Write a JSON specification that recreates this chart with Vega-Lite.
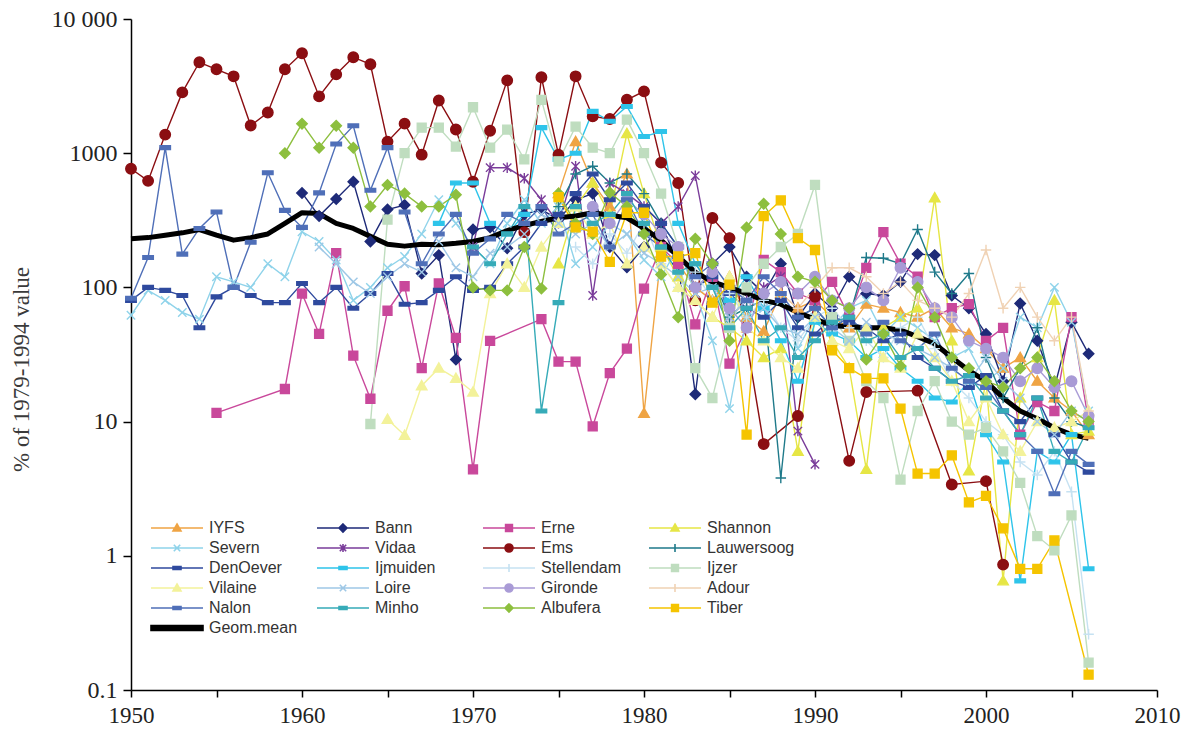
{
  "$schema": "https://vega.github.io/schema/vega-lite/v6.json",
  "width": 1026,
  "height": 671,
  "autosize": {"type": "none"},
  "padding": {"left": 131, "top": 19, "right": 29, "bottom": 58},
  "background": "white",
  "config": {
    "view": {"stroke": null},
    "axis": {"grid": false, "domainColor": "#000", "domainWidth": 1.5, "tickColor": "#000", "tickWidth": 1.5, "labelFont": "Liberation Serif", "labelColor": "#222", "titleFont": "Liberation Serif", "titleColor": "#3a3a3a", "titleFontWeight": "normal"}
  },
  "datasets": {
    "eel": [
      {"series":"IYFS","year":1975,"value":500},{"series":"IYFS","year":1976,"value":1220},{"series":"IYFS","year":1977,"value":600},{"series":"IYFS","year":1978,"value":400},{"series":"IYFS","year":1979,"value":700},{"series":"IYFS","year":1980,"value":11.5},{"series":"IYFS","year":1981,"value":180},{"series":"IYFS","year":1982,"value":150},{"series":"IYFS","year":1983,"value":100},{"series":"IYFS","year":1984,"value":80},{"series":"IYFS","year":1985,"value":120},{"series":"IYFS","year":1986,"value":60},{"series":"IYFS","year":1987,"value":47},{"series":"IYFS","year":1988,"value":90},{"series":"IYFS","year":1989,"value":70},{"series":"IYFS","year":1990,"value":80},{"series":"IYFS","year":1991,"value":60},{"series":"IYFS","year":1992,"value":50},{"series":"IYFS","year":1993,"value":75},{"series":"IYFS","year":1994,"value":70},{"series":"IYFS","year":1995,"value":65},{"series":"IYFS","year":1996,"value":60},{"series":"IYFS","year":1997,"value":70},{"series":"IYFS","year":1998,"value":50},{"series":"IYFS","year":1999,"value":45},{"series":"IYFS","year":2000,"value":35},{"series":"IYFS","year":2001,"value":25},{"series":"IYFS","year":2002,"value":30},{"series":"IYFS","year":2003,"value":20},{"series":"IYFS","year":2004,"value":15},{"series":"IYFS","year":2005,"value":12},{"series":"IYFS","year":2006,"value":8},

      {"series":"Bann","year":1960,"value":506},{"series":"Bann","year":1961,"value":340},{"series":"Bann","year":1962,"value":456},{"series":"Bann","year":1963,"value":612},{"series":"Bann","year":1964,"value":220},{"series":"Bann","year":1965,"value":380},{"series":"Bann","year":1966,"value":411},{"series":"Bann","year":1967,"value":127},{"series":"Bann","year":1968,"value":174},{"series":"Bann","year":1969,"value":29},{"series":"Bann","year":1970,"value":270},{"series":"Bann","year":1971,"value":281},{"series":"Bann","year":1972,"value":196},{"series":"Bann","year":1973,"value":350},{"series":"Bann","year":1974,"value":380},{"series":"Bann","year":1975,"value":320},{"series":"Bann","year":1976,"value":450},{"series":"Bann","year":1977,"value":500},{"series":"Bann","year":1978,"value":200},{"series":"Bann","year":1979,"value":141},{"series":"Bann","year":1980,"value":200},{"series":"Bann","year":1981,"value":300},{"series":"Bann","year":1982,"value":150},{"series":"Bann","year":1983,"value":16},{"series":"Bann","year":1984,"value":150},{"series":"Bann","year":1985,"value":200},{"series":"Bann","year":1986,"value":120},{"series":"Bann","year":1987,"value":90},{"series":"Bann","year":1988,"value":150},{"series":"Bann","year":1989,"value":60},{"series":"Bann","year":1990,"value":90},{"series":"Bann","year":1991,"value":70},{"series":"Bann","year":1992,"value":120},{"series":"Bann","year":1993,"value":90},{"series":"Bann","year":1994,"value":87},{"series":"Bann","year":1995,"value":110},{"series":"Bann","year":1996,"value":177},{"series":"Bann","year":1997,"value":174},{"series":"Bann","year":1998,"value":87},{"series":"Bann","year":1999,"value":70},{"series":"Bann","year":2000,"value":45},{"series":"Bann","year":2001,"value":20},{"series":"Bann","year":2002,"value":76},{"series":"Bann","year":2003,"value":40},{"series":"Bann","year":2004,"value":18},{"series":"Bann","year":2005,"value":55},{"series":"Bann","year":2006,"value":32},

      {"series":"Erne","year":1955,"value":11.6},{"series":"Erne","year":1959,"value":17.5},{"series":"Erne","year":1960,"value":90},{"series":"Erne","year":1961,"value":45},{"series":"Erne","year":1962,"value":180},{"series":"Erne","year":1963,"value":31},{"series":"Erne","year":1964,"value":14.8},{"series":"Erne","year":1965,"value":67},{"series":"Erne","year":1966,"value":102},{"series":"Erne","year":1967,"value":25},{"series":"Erne","year":1968,"value":107},{"series":"Erne","year":1969,"value":42},{"series":"Erne","year":1970,"value":4.4},{"series":"Erne","year":1971,"value":40},{"series":"Erne","year":1974,"value":58},{"series":"Erne","year":1975,"value":28},{"series":"Erne","year":1976,"value":28},{"series":"Erne","year":1977,"value":9.2},{"series":"Erne","year":1978,"value":23},{"series":"Erne","year":1979,"value":35},{"series":"Erne","year":1980,"value":98},{"series":"Erne","year":1981,"value":200},{"series":"Erne","year":1982,"value":150},{"series":"Erne","year":1983,"value":53},{"series":"Erne","year":1984,"value":120},{"series":"Erne","year":1985,"value":27},{"series":"Erne","year":1986,"value":50},{"series":"Erne","year":1987,"value":160},{"series":"Erne","year":1988,"value":130},{"series":"Erne","year":1989,"value":90},{"series":"Erne","year":1990,"value":80},{"series":"Erne","year":1991,"value":110},{"series":"Erne","year":1992,"value":60},{"series":"Erne","year":1993,"value":140},{"series":"Erne","year":1994,"value":258},{"series":"Erne","year":1995,"value":150},{"series":"Erne","year":1996,"value":120},{"series":"Erne","year":1997,"value":60},{"series":"Erne","year":1998,"value":70},{"series":"Erne","year":1999,"value":75},{"series":"Erne","year":2000,"value":40},{"series":"Erne","year":2001,"value":50},{"series":"Erne","year":2002,"value":8},{"series":"Erne","year":2003,"value":14},{"series":"Erne","year":2004,"value":12},{"series":"Erne","year":2005,"value":60},{"series":"Erne","year":2006,"value":10},

      {"series":"Shannon","year":1975,"value":150},{"series":"Shannon","year":1976,"value":400},{"series":"Shannon","year":1977,"value":600},{"series":"Shannon","year":1978,"value":350},{"series":"Shannon","year":1979,"value":1400},{"series":"Shannon","year":1980,"value":500},{"series":"Shannon","year":1981,"value":200},{"series":"Shannon","year":1982,"value":120},{"series":"Shannon","year":1983,"value":80},{"series":"Shannon","year":1984,"value":60},{"series":"Shannon","year":1985,"value":50},{"series":"Shannon","year":1986,"value":40},{"series":"Shannon","year":1987,"value":30},{"series":"Shannon","year":1988,"value":35},{"series":"Shannon","year":1989,"value":6},{"series":"Shannon","year":1990,"value":60},{"series":"Shannon","year":1991,"value":40},{"series":"Shannon","year":1992,"value":25},{"series":"Shannon","year":1993,"value":4.4},{"series":"Shannon","year":1994,"value":50},{"series":"Shannon","year":1995,"value":60},{"series":"Shannon","year":1996,"value":70},{"series":"Shannon","year":1997,"value":465},{"series":"Shannon","year":1998,"value":40},{"series":"Shannon","year":1999,"value":4.3},{"series":"Shannon","year":2000,"value":20},{"series":"Shannon","year":2001,"value":0.65},{"series":"Shannon","year":2002,"value":15},{"series":"Shannon","year":2003,"value":30},{"series":"Shannon","year":2004,"value":80},{"series":"Shannon","year":2005,"value":8},{"series":"Shannon","year":2006,"value":8.5},

      {"series":"Severn","year":1950,"value":62},{"series":"Severn","year":1951,"value":95},{"series":"Severn","year":1952,"value":80},{"series":"Severn","year":1953,"value":65},{"series":"Severn","year":1954,"value":58},{"series":"Severn","year":1955,"value":120},{"series":"Severn","year":1956,"value":110},{"series":"Severn","year":1957,"value":100},{"series":"Severn","year":1958,"value":150},{"series":"Severn","year":1959,"value":120},{"series":"Severn","year":1960,"value":260},{"series":"Severn","year":1961,"value":220},{"series":"Severn","year":1962,"value":160},{"series":"Severn","year":1963,"value":80},{"series":"Severn","year":1964,"value":100},{"series":"Severn","year":1965,"value":140},{"series":"Severn","year":1966,"value":170},{"series":"Severn","year":1967,"value":250},{"series":"Severn","year":1968,"value":450},{"series":"Severn","year":1969,"value":300},{"series":"Severn","year":1970,"value":200},{"series":"Severn","year":1971,"value":150},{"series":"Severn","year":1972,"value":300},{"series":"Severn","year":1973,"value":450},{"series":"Severn","year":1974,"value":300},{"series":"Severn","year":1975,"value":400},{"series":"Severn","year":1976,"value":150},{"series":"Severn","year":1977,"value":200},{"series":"Severn","year":1978,"value":300},{"series":"Severn","year":1979,"value":250},{"series":"Severn","year":1980,"value":160},{"series":"Severn","year":1981,"value":120},{"series":"Severn","year":1982,"value":200},{"series":"Severn","year":1983,"value":90},{"series":"Severn","year":1984,"value":40},{"series":"Severn","year":1985,"value":12.5},{"series":"Severn","year":1986,"value":60},{"series":"Severn","year":1987,"value":70},{"series":"Severn","year":1988,"value":80},{"series":"Severn","year":1989,"value":35},{"series":"Severn","year":1990,"value":60},{"series":"Severn","year":1991,"value":50},{"series":"Severn","year":1992,"value":70},{"series":"Severn","year":1993,"value":80},{"series":"Severn","year":1994,"value":45},{"series":"Severn","year":1995,"value":60},{"series":"Severn","year":1996,"value":50},{"series":"Severn","year":1997,"value":40},{"series":"Severn","year":1998,"value":30},{"series":"Severn","year":1999,"value":35},{"series":"Severn","year":2000,"value":20},{"series":"Severn","year":2001,"value":25},{"series":"Severn","year":2002,"value":60},{"series":"Severn","year":2003,"value":50},{"series":"Severn","year":2004,"value":100},{"series":"Severn","year":2005,"value":55},{"series":"Severn","year":2006,"value":12},

      {"series":"Vidaa","year":1970,"value":200},{"series":"Vidaa","year":1971,"value":780},{"series":"Vidaa","year":1972,"value":780},{"series":"Vidaa","year":1973,"value":650},{"series":"Vidaa","year":1974,"value":450},{"series":"Vidaa","year":1975,"value":300},{"series":"Vidaa","year":1976,"value":800},{"series":"Vidaa","year":1977,"value":87},{"series":"Vidaa","year":1978,"value":600},{"series":"Vidaa","year":1979,"value":500},{"series":"Vidaa","year":1980,"value":400},{"series":"Vidaa","year":1981,"value":300},{"series":"Vidaa","year":1982,"value":400},{"series":"Vidaa","year":1983,"value":680},{"series":"Vidaa","year":1984,"value":150},{"series":"Vidaa","year":1985,"value":60},{"series":"Vidaa","year":1986,"value":80},{"series":"Vidaa","year":1987,"value":100},{"series":"Vidaa","year":1988,"value":120},{"series":"Vidaa","year":1989,"value":8.5},{"series":"Vidaa","year":1990,"value":4.8},

      {"series":"Ems","year":1950,"value":766},{"series":"Ems","year":1951,"value":622},{"series":"Ems","year":1952,"value":1376},{"series":"Ems","year":1953,"value":2840},{"series":"Ems","year":1954,"value":4760},{"series":"Ems","year":1955,"value":4220},{"series":"Ems","year":1956,"value":3740},{"series":"Ems","year":1957,"value":1607},{"series":"Ems","year":1958,"value":2010},{"series":"Ems","year":1959,"value":4220},{"series":"Ems","year":1960,"value":5560},{"series":"Ems","year":1961,"value":2650},{"series":"Ems","year":1962,"value":3870},{"series":"Ems","year":1963,"value":5190},{"series":"Ems","year":1964,"value":4600},{"series":"Ems","year":1965,"value":1220},{"series":"Ems","year":1966,"value":1660},{"series":"Ems","year":1967,"value":975},{"series":"Ems","year":1968,"value":2470},{"series":"Ems","year":1969,"value":1500},{"series":"Ems","year":1970,"value":612},{"series":"Ems","year":1971,"value":1470},{"series":"Ems","year":1972,"value":3490},{"series":"Ems","year":1973,"value":258},{"series":"Ems","year":1974,"value":3680},{"series":"Ems","year":1975,"value":975},{"series":"Ems","year":1976,"value":3740},{"series":"Ems","year":1977,"value":1880},{"series":"Ems","year":1978,"value":1800},{"series":"Ems","year":1979,"value":2500},{"series":"Ems","year":1980,"value":2890},{"series":"Ems","year":1981,"value":850},{"series":"Ems","year":1982,"value":600},{"series":"Ems","year":1983,"value":80},{"series":"Ems","year":1984,"value":329},{"series":"Ems","year":1985,"value":233},{"series":"Ems","year":1987,"value":6.8},{"series":"Ems","year":1989,"value":11},{"series":"Ems","year":1990,"value":85},{"series":"Ems","year":1992,"value":5.1},{"series":"Ems","year":1993,"value":16.6},{"series":"Ems","year":1996,"value":17},{"series":"Ems","year":1998,"value":3.4},{"series":"Ems","year":2000,"value":3.6},{"series":"Ems","year":2001,"value":0.86},

      {"series":"Lauwersoog","year":1975,"value":400},{"series":"Lauwersoog","year":1976,"value":700},{"series":"Lauwersoog","year":1977,"value":800},{"series":"Lauwersoog","year":1978,"value":600},{"series":"Lauwersoog","year":1979,"value":700},{"series":"Lauwersoog","year":1980,"value":500},{"series":"Lauwersoog","year":1981,"value":300},{"series":"Lauwersoog","year":1982,"value":200},{"series":"Lauwersoog","year":1983,"value":100},{"series":"Lauwersoog","year":1984,"value":120},{"series":"Lauwersoog","year":1985,"value":60},{"series":"Lauwersoog","year":1986,"value":70},{"series":"Lauwersoog","year":1987,"value":80},{"series":"Lauwersoog","year":1988,"value":3.8},{"series":"Lauwersoog","year":1989,"value":60},{"series":"Lauwersoog","year":1990,"value":70},{"series":"Lauwersoog","year":1991,"value":50},{"series":"Lauwersoog","year":1992,"value":60},{"series":"Lauwersoog","year":1993,"value":167},{"series":"Lauwersoog","year":1994,"value":165},{"series":"Lauwersoog","year":1995,"value":150},{"series":"Lauwersoog","year":1996,"value":270},{"series":"Lauwersoog","year":1997,"value":130},{"series":"Lauwersoog","year":1998,"value":90},{"series":"Lauwersoog","year":1999,"value":127},{"series":"Lauwersoog","year":2000,"value":30},{"series":"Lauwersoog","year":2001,"value":15},{"series":"Lauwersoog","year":2002,"value":25},{"series":"Lauwersoog","year":2003,"value":50},{"series":"Lauwersoog","year":2004,"value":15},{"series":"Lauwersoog","year":2005,"value":10},{"series":"Lauwersoog","year":2006,"value":9},

      {"series":"DenOever","year":1950,"value":80},{"series":"DenOever","year":1951,"value":100},{"series":"DenOever","year":1952,"value":95},{"series":"DenOever","year":1953,"value":87},{"series":"DenOever","year":1954,"value":50},{"series":"DenOever","year":1955,"value":85},{"series":"DenOever","year":1956,"value":100},{"series":"DenOever","year":1957,"value":87},{"series":"DenOever","year":1958,"value":77},{"series":"DenOever","year":1959,"value":77},{"series":"DenOever","year":1960,"value":107},{"series":"DenOever","year":1961,"value":77},{"series":"DenOever","year":1962,"value":100},{"series":"DenOever","year":1963,"value":70},{"series":"DenOever","year":1964,"value":90},{"series":"DenOever","year":1965,"value":127},{"series":"DenOever","year":1966,"value":75},{"series":"DenOever","year":1967,"value":77},{"series":"DenOever","year":1968,"value":95},{"series":"DenOever","year":1969,"value":120},{"series":"DenOever","year":1970,"value":95},{"series":"DenOever","year":1971,"value":100},{"series":"DenOever","year":1972,"value":150},{"series":"DenOever","year":1973,"value":200},{"series":"DenOever","year":1974,"value":300},{"series":"DenOever","year":1975,"value":350},{"series":"DenOever","year":1976,"value":500},{"series":"DenOever","year":1977,"value":700},{"series":"DenOever","year":1978,"value":450},{"series":"DenOever","year":1979,"value":600},{"series":"DenOever","year":1980,"value":400},{"series":"DenOever","year":1981,"value":300},{"series":"DenOever","year":1982,"value":200},{"series":"DenOever","year":1983,"value":100},{"series":"DenOever","year":1984,"value":120},{"series":"DenOever","year":1985,"value":90},{"series":"DenOever","year":1986,"value":70},{"series":"DenOever","year":1987,"value":60},{"series":"DenOever","year":1988,"value":80},{"series":"DenOever","year":1989,"value":50},{"series":"DenOever","year":1990,"value":45},{"series":"DenOever","year":1991,"value":60},{"series":"DenOever","year":1992,"value":55},{"series":"DenOever","year":1993,"value":50},{"series":"DenOever","year":1994,"value":40},{"series":"DenOever","year":1995,"value":45},{"series":"DenOever","year":1996,"value":30},{"series":"DenOever","year":1997,"value":25},{"series":"DenOever","year":1998,"value":20},{"series":"DenOever","year":1999,"value":18},{"series":"DenOever","year":2000,"value":22},{"series":"DenOever","year":2001,"value":12},{"series":"DenOever","year":2002,"value":10},{"series":"DenOever","year":2003,"value":15},{"series":"DenOever","year":2004,"value":8},{"series":"DenOever","year":2005,"value":5},{"series":"DenOever","year":2006,"value":4.2},

      {"series":"Ijmuiden","year":1968,"value":300},{"series":"Ijmuiden","year":1969,"value":600},{"series":"Ijmuiden","year":1970,"value":600},{"series":"Ijmuiden","year":1971,"value":300},{"series":"Ijmuiden","year":1972,"value":250},{"series":"Ijmuiden","year":1973,"value":350},{"series":"Ijmuiden","year":1974,"value":1550},{"series":"Ijmuiden","year":1975,"value":900},{"series":"Ijmuiden","year":1976,"value":1000},{"series":"Ijmuiden","year":1977,"value":2050},{"series":"Ijmuiden","year":1978,"value":1730},{"series":"Ijmuiden","year":1979,"value":2230},{"series":"Ijmuiden","year":1980,"value":1330},{"series":"Ijmuiden","year":1981,"value":1450},{"series":"Ijmuiden","year":1982,"value":300},{"series":"Ijmuiden","year":1983,"value":150},{"series":"Ijmuiden","year":1984,"value":100},{"series":"Ijmuiden","year":1985,"value":80},{"series":"Ijmuiden","year":1986,"value":120},{"series":"Ijmuiden","year":1987,"value":70},{"series":"Ijmuiden","year":1988,"value":40},{"series":"Ijmuiden","year":1989,"value":20},{"series":"Ijmuiden","year":1990,"value":55},{"series":"Ijmuiden","year":1991,"value":45},{"series":"Ijmuiden","year":1992,"value":40},{"series":"Ijmuiden","year":1993,"value":30},{"series":"Ijmuiden","year":1994,"value":35},{"series":"Ijmuiden","year":1995,"value":25},{"series":"Ijmuiden","year":1996,"value":20},{"series":"Ijmuiden","year":1997,"value":15},{"series":"Ijmuiden","year":1998,"value":14},{"series":"Ijmuiden","year":1999,"value":20},{"series":"Ijmuiden","year":2000,"value":8},{"series":"Ijmuiden","year":2001,"value":5},{"series":"Ijmuiden","year":2002,"value":0.65},{"series":"Ijmuiden","year":2003,"value":6},{"series":"Ijmuiden","year":2004,"value":5},{"series":"Ijmuiden","year":2005,"value":8},{"series":"Ijmuiden","year":2006,"value":0.8},

      {"series":"Stellendam","year":1976,"value":200},{"series":"Stellendam","year":1977,"value":150},{"series":"Stellendam","year":1978,"value":250},{"series":"Stellendam","year":1979,"value":180},{"series":"Stellendam","year":1980,"value":300},{"series":"Stellendam","year":1981,"value":150},{"series":"Stellendam","year":1982,"value":100},{"series":"Stellendam","year":1983,"value":130},{"series":"Stellendam","year":1984,"value":80},{"series":"Stellendam","year":1985,"value":90},{"series":"Stellendam","year":1986,"value":60},{"series":"Stellendam","year":1987,"value":80},{"series":"Stellendam","year":1988,"value":50},{"series":"Stellendam","year":1989,"value":40},{"series":"Stellendam","year":1990,"value":60},{"series":"Stellendam","year":1991,"value":70},{"series":"Stellendam","year":1992,"value":50},{"series":"Stellendam","year":1993,"value":40},{"series":"Stellendam","year":1994,"value":30},{"series":"Stellendam","year":1995,"value":50},{"series":"Stellendam","year":1996,"value":60},{"series":"Stellendam","year":1997,"value":35},{"series":"Stellendam","year":1998,"value":20},{"series":"Stellendam","year":1999,"value":15},{"series":"Stellendam","year":2000,"value":10},{"series":"Stellendam","year":2001,"value":8},{"series":"Stellendam","year":2002,"value":5},{"series":"Stellendam","year":2003,"value":4},{"series":"Stellendam","year":2004,"value":6},{"series":"Stellendam","year":2005,"value":3},{"series":"Stellendam","year":2006,"value":0.26},

      {"series":"Ijzer","year":1964,"value":9.6},{"series":"Ijzer","year":1965,"value":320},{"series":"Ijzer","year":1966,"value":1000},{"series":"Ijzer","year":1967,"value":1550},{"series":"Ijzer","year":1968,"value":1550},{"series":"Ijzer","year":1969,"value":1120},{"series":"Ijzer","year":1970,"value":2200},{"series":"Ijzer","year":1971,"value":1100},{"series":"Ijzer","year":1972,"value":1500},{"series":"Ijzer","year":1973,"value":900},{"series":"Ijzer","year":1974,"value":2500},{"series":"Ijzer","year":1975,"value":870},{"series":"Ijzer","year":1976,"value":1580},{"series":"Ijzer","year":1977,"value":1100},{"series":"Ijzer","year":1978,"value":1000},{"series":"Ijzer","year":1979,"value":1780},{"series":"Ijzer","year":1980,"value":1000},{"series":"Ijzer","year":1981,"value":500},{"series":"Ijzer","year":1982,"value":200},{"series":"Ijzer","year":1983,"value":25},{"series":"Ijzer","year":1984,"value":15},{"series":"Ijzer","year":1985,"value":50},{"series":"Ijzer","year":1986,"value":100},{"series":"Ijzer","year":1987,"value":150},{"series":"Ijzer","year":1988,"value":200},{"series":"Ijzer","year":1989,"value":250},{"series":"Ijzer","year":1990,"value":580},{"series":"Ijzer","year":1991,"value":60},{"series":"Ijzer","year":1992,"value":40},{"series":"Ijzer","year":1993,"value":20},{"series":"Ijzer","year":1994,"value":15},{"series":"Ijzer","year":1995,"value":3.7},{"series":"Ijzer","year":1996,"value":12},{"series":"Ijzer","year":1997,"value":20},{"series":"Ijzer","year":1998,"value":10},{"series":"Ijzer","year":1999,"value":8},{"series":"Ijzer","year":2000,"value":9},{"series":"Ijzer","year":2001,"value":6},{"series":"Ijzer","year":2002,"value":3.5},{"series":"Ijzer","year":2003,"value":1.4},{"series":"Ijzer","year":2004,"value":1.1},{"series":"Ijzer","year":2005,"value":2},{"series":"Ijzer","year":2006,"value":0.16},

      {"series":"Vilaine","year":1965,"value":10.4},{"series":"Vilaine","year":1966,"value":7.9},{"series":"Vilaine","year":1967,"value":18.5},{"series":"Vilaine","year":1968,"value":25},{"series":"Vilaine","year":1969,"value":21},{"series":"Vilaine","year":1970,"value":16.6},{"series":"Vilaine","year":1971,"value":90},{"series":"Vilaine","year":1972,"value":150},{"series":"Vilaine","year":1973,"value":100},{"series":"Vilaine","year":1974,"value":200},{"series":"Vilaine","year":1975,"value":300},{"series":"Vilaine","year":1976,"value":400},{"series":"Vilaine","year":1977,"value":250},{"series":"Vilaine","year":1978,"value":300},{"series":"Vilaine","year":1979,"value":150},{"series":"Vilaine","year":1980,"value":200},{"series":"Vilaine","year":1981,"value":150},{"series":"Vilaine","year":1982,"value":100},{"series":"Vilaine","year":1983,"value":80},{"series":"Vilaine","year":1984,"value":60},{"series":"Vilaine","year":1985,"value":120},{"series":"Vilaine","year":1986,"value":50},{"series":"Vilaine","year":1987,"value":40},{"series":"Vilaine","year":1988,"value":30},{"series":"Vilaine","year":1989,"value":25},{"series":"Vilaine","year":1990,"value":60},{"series":"Vilaine","year":1991,"value":40},{"series":"Vilaine","year":1992,"value":35},{"series":"Vilaine","year":1993,"value":50},{"series":"Vilaine","year":1994,"value":30},{"series":"Vilaine","year":1995,"value":25},{"series":"Vilaine","year":1996,"value":45},{"series":"Vilaine","year":1997,"value":30},{"series":"Vilaine","year":1998,"value":20},{"series":"Vilaine","year":1999,"value":10},{"series":"Vilaine","year":2000,"value":15},{"series":"Vilaine","year":2001,"value":8},{"series":"Vilaine","year":2002,"value":6},{"series":"Vilaine","year":2003,"value":10},{"series":"Vilaine","year":2004,"value":9},{"series":"Vilaine","year":2005,"value":10},{"series":"Vilaine","year":2006,"value":12},

      {"series":"Loire","year":1961,"value":200},{"series":"Loire","year":1962,"value":150},{"series":"Loire","year":1963,"value":110},{"series":"Loire","year":1964,"value":90},{"series":"Loire","year":1965,"value":120},{"series":"Loire","year":1966,"value":150},{"series":"Loire","year":1967,"value":130},{"series":"Loire","year":1968,"value":220},{"series":"Loire","year":1969,"value":140},{"series":"Loire","year":1970,"value":120},{"series":"Loire","year":1971,"value":180},{"series":"Loire","year":1972,"value":200},{"series":"Loire","year":1973,"value":250},{"series":"Loire","year":1974,"value":350},{"series":"Loire","year":1975,"value":300},{"series":"Loire","year":1976,"value":250},{"series":"Loire","year":1977,"value":300},{"series":"Loire","year":1978,"value":200},{"series":"Loire","year":1979,"value":250},{"series":"Loire","year":1980,"value":180},{"series":"Loire","year":1981,"value":150},{"series":"Loire","year":1982,"value":120},{"series":"Loire","year":1983,"value":90},{"series":"Loire","year":1984,"value":100},{"series":"Loire","year":1985,"value":60},{"series":"Loire","year":1986,"value":80},{"series":"Loire","year":1987,"value":70},{"series":"Loire","year":1988,"value":50},{"series":"Loire","year":1989,"value":45},{"series":"Loire","year":1990,"value":60},{"series":"Loire","year":1991,"value":50},{"series":"Loire","year":1992,"value":40},{"series":"Loire","year":1993,"value":55},{"series":"Loire","year":1994,"value":45},{"series":"Loire","year":1995,"value":40},{"series":"Loire","year":1996,"value":35},{"series":"Loire","year":1997,"value":30},{"series":"Loire","year":1998,"value":25},{"series":"Loire","year":1999,"value":20},{"series":"Loire","year":2000,"value":30},{"series":"Loire","year":2001,"value":20},{"series":"Loire","year":2002,"value":15},{"series":"Loire","year":2003,"value":10},{"series":"Loire","year":2004,"value":8},{"series":"Loire","year":2005,"value":12},{"series":"Loire","year":2006,"value":10},

      {"series":"Gironde","year":1977,"value":400},{"series":"Gironde","year":1978,"value":300},{"series":"Gironde","year":1979,"value":450},{"series":"Gironde","year":1980,"value":350},{"series":"Gironde","year":1981,"value":250},{"series":"Gironde","year":1982,"value":200},{"series":"Gironde","year":1983,"value":100},{"series":"Gironde","year":1984,"value":130},{"series":"Gironde","year":1985,"value":70},{"series":"Gironde","year":1986,"value":50},{"series":"Gironde","year":1987,"value":90},{"series":"Gironde","year":1988,"value":110},{"series":"Gironde","year":1989,"value":90},{"series":"Gironde","year":1990,"value":120},{"series":"Gironde","year":1991,"value":80},{"series":"Gironde","year":1992,"value":70},{"series":"Gironde","year":1993,"value":100},{"series":"Gironde","year":1994,"value":80},{"series":"Gironde","year":1995,"value":140},{"series":"Gironde","year":1996,"value":110},{"series":"Gironde","year":1997,"value":70},{"series":"Gironde","year":1998,"value":60},{"series":"Gironde","year":1999,"value":40},{"series":"Gironde","year":2000,"value":35},{"series":"Gironde","year":2001,"value":30},{"series":"Gironde","year":2002,"value":20},{"series":"Gironde","year":2003,"value":25},{"series":"Gironde","year":2004,"value":18},{"series":"Gironde","year":2005,"value":20},{"series":"Gironde","year":2006,"value":11},

      {"series":"Adour","year":1988,"value":90},{"series":"Adour","year":1989,"value":70},{"series":"Adour","year":1990,"value":100},{"series":"Adour","year":1991,"value":140},{"series":"Adour","year":1992,"value":140},{"series":"Adour","year":1993,"value":120},{"series":"Adour","year":1994,"value":90},{"series":"Adour","year":1995,"value":110},{"series":"Adour","year":1996,"value":80},{"series":"Adour","year":1997,"value":70},{"series":"Adour","year":1998,"value":60},{"series":"Adour","year":1999,"value":90},{"series":"Adour","year":2000,"value":190},{"series":"Adour","year":2001,"value":70},{"series":"Adour","year":2002,"value":100},{"series":"Adour","year":2003,"value":60},{"series":"Adour","year":2004,"value":40},{"series":"Adour","year":2005,"value":60},{"series":"Adour","year":2006,"value":12},

      {"series":"Nalon","year":1950,"value":83},{"series":"Nalon","year":1951,"value":167},{"series":"Nalon","year":1952,"value":1100},{"series":"Nalon","year":1953,"value":177},{"series":"Nalon","year":1954,"value":275},{"series":"Nalon","year":1955,"value":365},{"series":"Nalon","year":1956,"value":100},{"series":"Nalon","year":1957,"value":217},{"series":"Nalon","year":1958,"value":715},{"series":"Nalon","year":1959,"value":375},{"series":"Nalon","year":1960,"value":280},{"series":"Nalon","year":1961,"value":506},{"series":"Nalon","year":1962,"value":1170},{"series":"Nalon","year":1963,"value":1600},{"series":"Nalon","year":1964,"value":530},{"series":"Nalon","year":1965,"value":1100},{"series":"Nalon","year":1966,"value":365},{"series":"Nalon","year":1967,"value":150},{"series":"Nalon","year":1968,"value":250},{"series":"Nalon","year":1969,"value":350},{"series":"Nalon","year":1970,"value":180},{"series":"Nalon","year":1971,"value":230},{"series":"Nalon","year":1972,"value":350},{"series":"Nalon","year":1973,"value":300},{"series":"Nalon","year":1974,"value":400},{"series":"Nalon","year":1975,"value":250},{"series":"Nalon","year":1976,"value":300},{"series":"Nalon","year":1977,"value":350},{"series":"Nalon","year":1978,"value":200},{"series":"Nalon","year":1979,"value":450},{"series":"Nalon","year":1980,"value":250},{"series":"Nalon","year":1981,"value":200},{"series":"Nalon","year":1982,"value":170},{"series":"Nalon","year":1983,"value":120},{"series":"Nalon","year":1984,"value":150},{"series":"Nalon","year":1985,"value":100},{"series":"Nalon","year":1986,"value":80},{"series":"Nalon","year":1987,"value":120},{"series":"Nalon","year":1988,"value":90},{"series":"Nalon","year":1989,"value":60},{"series":"Nalon","year":1990,"value":70},{"series":"Nalon","year":1991,"value":50},{"series":"Nalon","year":1992,"value":60},{"series":"Nalon","year":1993,"value":45},{"series":"Nalon","year":1994,"value":55},{"series":"Nalon","year":1995,"value":40},{"series":"Nalon","year":1996,"value":35},{"series":"Nalon","year":1997,"value":45},{"series":"Nalon","year":1998,"value":25},{"series":"Nalon","year":1999,"value":20},{"series":"Nalon","year":2000,"value":18},{"series":"Nalon","year":2001,"value":12},{"series":"Nalon","year":2002,"value":8},{"series":"Nalon","year":2003,"value":6},{"series":"Nalon","year":2004,"value":2.9},{"series":"Nalon","year":2005,"value":6},{"series":"Nalon","year":2006,"value":4.8},

      {"series":"Minho","year":1970,"value":200},{"series":"Minho","year":1971,"value":150},{"series":"Minho","year":1972,"value":250},{"series":"Minho","year":1973,"value":400},{"series":"Minho","year":1974,"value":12},{"series":"Minho","year":1975,"value":77},{"series":"Minho","year":1976,"value":400},{"series":"Minho","year":1977,"value":300},{"series":"Minho","year":1978,"value":350},{"series":"Minho","year":1979,"value":500},{"series":"Minho","year":1980,"value":300},{"series":"Minho","year":1981,"value":200},{"series":"Minho","year":1982,"value":130},{"series":"Minho","year":1983,"value":150},{"series":"Minho","year":1984,"value":100},{"series":"Minho","year":1985,"value":50},{"series":"Minho","year":1986,"value":70},{"series":"Minho","year":1987,"value":40},{"series":"Minho","year":1988,"value":50},{"series":"Minho","year":1989,"value":30},{"series":"Minho","year":1990,"value":40},{"series":"Minho","year":1991,"value":55},{"series":"Minho","year":1992,"value":60},{"series":"Minho","year":1993,"value":40},{"series":"Minho","year":1994,"value":45},{"series":"Minho","year":1995,"value":30},{"series":"Minho","year":1996,"value":35},{"series":"Minho","year":1997,"value":25},{"series":"Minho","year":1998,"value":20},{"series":"Minho","year":1999,"value":22},{"series":"Minho","year":2000,"value":15},{"series":"Minho","year":2001,"value":12},{"series":"Minho","year":2002,"value":8},{"series":"Minho","year":2003,"value":15},{"series":"Minho","year":2004,"value":6},{"series":"Minho","year":2005,"value":5},{"series":"Minho","year":2006,"value":9},

      {"series":"Albufera","year":1959,"value":1000},{"series":"Albufera","year":1960,"value":1660},{"series":"Albufera","year":1961,"value":1100},{"series":"Albufera","year":1962,"value":1600},{"series":"Albufera","year":1963,"value":1100},{"series":"Albufera","year":1964,"value":400},{"series":"Albufera","year":1965,"value":580},{"series":"Albufera","year":1966,"value":500},{"series":"Albufera","year":1967,"value":400},{"series":"Albufera","year":1968,"value":400},{"series":"Albufera","year":1969,"value":490},{"series":"Albufera","year":1970,"value":100},{"series":"Albufera","year":1971,"value":95},{"series":"Albufera","year":1972,"value":95},{"series":"Albufera","year":1973,"value":200},{"series":"Albufera","year":1974,"value":98},{"series":"Albufera","year":1975,"value":500},{"series":"Albufera","year":1976,"value":300},{"series":"Albufera","year":1977,"value":250},{"series":"Albufera","year":1978,"value":510},{"series":"Albufera","year":1979,"value":400},{"series":"Albufera","year":1980,"value":250},{"series":"Albufera","year":1981,"value":125},{"series":"Albufera","year":1982,"value":60},{"series":"Albufera","year":1983,"value":230},{"series":"Albufera","year":1984,"value":150},{"series":"Albufera","year":1985,"value":40},{"series":"Albufera","year":1986,"value":280},{"series":"Albufera","year":1987,"value":420},{"series":"Albufera","year":1988,"value":250},{"series":"Albufera","year":1989,"value":120},{"series":"Albufera","year":1990,"value":110},{"series":"Albufera","year":1991,"value":80},{"series":"Albufera","year":1992,"value":70},{"series":"Albufera","year":1993,"value":29},{"series":"Albufera","year":1994,"value":45},{"series":"Albufera","year":1995,"value":26},{"series":"Albufera","year":1996,"value":100},{"series":"Albufera","year":1997,"value":60},{"series":"Albufera","year":1998,"value":30},{"series":"Albufera","year":1999,"value":25},{"series":"Albufera","year":2000,"value":20},{"series":"Albufera","year":2001,"value":18},{"series":"Albufera","year":2002,"value":25},{"series":"Albufera","year":2003,"value":30},{"series":"Albufera","year":2004,"value":20},{"series":"Albufera","year":2005,"value":12},{"series":"Albufera","year":2006,"value":10},

      {"series":"Tiber","year":1975,"value":470},{"series":"Tiber","year":1976,"value":280},{"series":"Tiber","year":1977,"value":260},{"series":"Tiber","year":1978,"value":155},{"series":"Tiber","year":1979,"value":360},{"series":"Tiber","year":1980,"value":360},{"series":"Tiber","year":1981,"value":170},{"series":"Tiber","year":1982,"value":170},{"series":"Tiber","year":1983,"value":180},{"series":"Tiber","year":1984,"value":77},{"series":"Tiber","year":1985,"value":105},{"series":"Tiber","year":1986,"value":8},{"series":"Tiber","year":1987,"value":340},{"series":"Tiber","year":1988,"value":445},{"series":"Tiber","year":1989,"value":233},{"series":"Tiber","year":1990,"value":190},{"series":"Tiber","year":1991,"value":34},{"series":"Tiber","year":1992,"value":25},{"series":"Tiber","year":1993,"value":21},{"series":"Tiber","year":1994,"value":21},{"series":"Tiber","year":1995,"value":12.5},{"series":"Tiber","year":1996,"value":4.1},{"series":"Tiber","year":1997,"value":4.1},{"series":"Tiber","year":1998,"value":5.6},{"series":"Tiber","year":1999,"value":2.5},{"series":"Tiber","year":2000,"value":2.8},{"series":"Tiber","year":2001,"value":1.6},{"series":"Tiber","year":2002,"value":0.8},{"series":"Tiber","year":2003,"value":0.8},{"series":"Tiber","year":2004,"value":1.3},{"series":"Tiber","year":2006,"value":0.13},

      {"series":"Geom.mean","year":1950,"value":230},{"series":"Geom.mean","year":1951,"value":235},{"series":"Geom.mean","year":1952,"value":245},{"series":"Geom.mean","year":1953,"value":255},{"series":"Geom.mean","year":1954,"value":270},{"series":"Geom.mean","year":1955,"value":245},{"series":"Geom.mean","year":1956,"value":225},{"series":"Geom.mean","year":1957,"value":235},{"series":"Geom.mean","year":1958,"value":250},{"series":"Geom.mean","year":1959,"value":300},{"series":"Geom.mean","year":1960,"value":360},{"series":"Geom.mean","year":1961,"value":355},{"series":"Geom.mean","year":1962,"value":300},{"series":"Geom.mean","year":1963,"value":275},{"series":"Geom.mean","year":1964,"value":240},{"series":"Geom.mean","year":1965,"value":210},{"series":"Geom.mean","year":1966,"value":203},{"series":"Geom.mean","year":1967,"value":210},{"series":"Geom.mean","year":1968,"value":208},{"series":"Geom.mean","year":1969,"value":213},{"series":"Geom.mean","year":1970,"value":220},{"series":"Geom.mean","year":1971,"value":235},{"series":"Geom.mean","year":1972,"value":265},{"series":"Geom.mean","year":1973,"value":290},{"series":"Geom.mean","year":1974,"value":310},{"series":"Geom.mean","year":1975,"value":330},{"series":"Geom.mean","year":1976,"value":340},{"series":"Geom.mean","year":1977,"value":360},{"series":"Geom.mean","year":1978,"value":345},{"series":"Geom.mean","year":1979,"value":330},{"series":"Geom.mean","year":1980,"value":275},{"series":"Geom.mean","year":1981,"value":225},{"series":"Geom.mean","year":1982,"value":170},{"series":"Geom.mean","year":1983,"value":130},{"series":"Geom.mean","year":1984,"value":110},{"series":"Geom.mean","year":1985,"value":100},{"series":"Geom.mean","year":1986,"value":90},{"series":"Geom.mean","year":1987,"value":80},{"series":"Geom.mean","year":1988,"value":75},{"series":"Geom.mean","year":1989,"value":65},{"series":"Geom.mean","year":1990,"value":58},{"series":"Geom.mean","year":1991,"value":52},{"series":"Geom.mean","year":1992,"value":51},{"series":"Geom.mean","year":1993,"value":50},{"series":"Geom.mean","year":1994,"value":50},{"series":"Geom.mean","year":1995,"value":48},{"series":"Geom.mean","year":1996,"value":43},{"series":"Geom.mean","year":1997,"value":38},{"series":"Geom.mean","year":1998,"value":30},{"series":"Geom.mean","year":1999,"value":24},{"series":"Geom.mean","year":2000,"value":20},{"series":"Geom.mean","year":2001,"value":15},{"series":"Geom.mean","year":2002,"value":12},{"series":"Geom.mean","year":2003,"value":10.5},{"series":"Geom.mean","year":2004,"value":9},{"series":"Geom.mean","year":2005,"value":8},{"series":"Geom.mean","year":2006,"value":7.5}
    ]
  },
  "data": {"name": "eel"},
  "encoding": {
    "x": {
      "field": "year", "type": "quantitative",
      "scale": {"domain": [1950, 2010], "nice": false, "zero": false},
      "axis": {"title": null, "values": [1950,1955,1960,1965,1970,1975,1980,1985,1990,1995,2000,2005,2010], "labelExpr": "datum.value % 10 == 0 ? '' + datum.value : ''", "labelFontSize": 23, "tickSize": 7, "labelPadding": 7, "labelFlush": false, "labelOverlap": false}
    },
    "y": {
      "field": "value", "type": "quantitative",
      "scale": {"type": "log", "domain": [0.1, 10000], "nice": false},
      "axis": {"title": "% of 1979-1994 value", "values": [0.1, 1, 10, 100, 1000, 10000], "labelExpr": "datum.value >= 10000 ? '10 000' : datum.value < 1 ? '0.1' : '' + datum.value", "labelFontSize": 24, "tickSize": 8, "labelPadding": 6, "titleFontSize": 23, "titleX": -110, "titleY": 350, "titleAngle": -90, "titleBaseline": "middle", "titleAlign": "center"}
    }
  },
  "layer": [
    {
      "transform": [{"filter": "datum.series !== 'Geom.mean'"}],
      "mark": {"type": "line", "strokeWidth": 1.4},
      "encoding": {
        "color": {
          "field": "series", "type": "nominal",
          "scale": {
            "domain": ["IYFS","Bann","Erne","Shannon","Severn","Vidaa","Ems","Lauwersoog","DenOever","Ijmuiden","Stellendam","Ijzer","Vilaine","Loire","Gironde","Adour","Nalon","Minho","Albufera","Tiber","Geom.mean"],
            "range": ["#EFA444","#1E2A78","#C9489B","#E6E645","#8FD3EA","#7A3C9A","#8B0E12","#1F7A8A","#2F4A9E","#2EC4EA","#C6E2F2","#BFDDBF","#F3F29A","#9FC8E6","#A99BD6","#F0D2B4","#4F6FB8","#36ABB8","#8DBF3E","#F5C400","#000000"]
          },
          "legend": {
            "title": null, "orient": "none", "direction": "horizontal", "legendX": 38, "legendY": 501, "columns": 4, "gridAlign": "all",
            "columnPadding": 15, "rowPadding": 4, "padding": 0,
            "symbolSize": 64, "symbolStrokeWidth": 1.6, "labelOffset": 24, "labelFont": "Liberation Sans", "labelFontSize": 16, "labelColor": "#333", "labelLimit": 200,
            "encode": {
              "symbols": {
                "update": {
                  "shape": {"signal": "'M-6.5,0H6.5' + scale('shape', datum.value)"},
                  "fill": {"scale": "color", "field": "value"},
                  "stroke": {"scale": "color", "field": "value"},
                  "opacity": {"value": 1}
                }
              }
            }
          }
        },
        "detail": {"field": "series", "type": "nominal"}
      }
    },
    {
      "transform": [{"filter": "datum.series === 'Geom.mean'"}],
      "mark": {"type": "line", "strokeWidth": 5, "strokeJoin": "round"},
      "encoding": {
        "color": {
          "field": "series", "type": "nominal",
          "scale": {
            "domain": ["IYFS","Bann","Erne","Shannon","Severn","Vidaa","Ems","Lauwersoog","DenOever","Ijmuiden","Stellendam","Ijzer","Vilaine","Loire","Gironde","Adour","Nalon","Minho","Albufera","Tiber","Geom.mean"],
            "range": ["#EFA444","#1E2A78","#C9489B","#E6E645","#8FD3EA","#7A3C9A","#8B0E12","#1F7A8A","#2F4A9E","#2EC4EA","#C6E2F2","#BFDDBF","#F3F29A","#9FC8E6","#A99BD6","#F0D2B4","#4F6FB8","#36ABB8","#8DBF3E","#F5C400","#000000"]
          }
        }
      }
    },
    {
      "transform": [{"filter": "datum.series !== 'Geom.mean'"}],
      "mark": {"type": "point", "filled": true, "size": 110, "strokeWidth": 1.4, "opacity": 1},
      "encoding": {
        "color": {
          "field": "series", "type": "nominal", "legend": null,
          "scale": {
            "domain": ["IYFS","Bann","Erne","Shannon","Severn","Vidaa","Ems","Lauwersoog","DenOever","Ijmuiden","Stellendam","Ijzer","Vilaine","Loire","Gironde","Adour","Nalon","Minho","Albufera","Tiber","Geom.mean"],
            "range": ["#EFA444","#1E2A78","#C9489B","#E6E645","#8FD3EA","#7A3C9A","#8B0E12","#1F7A8A","#2F4A9E","#2EC4EA","#C6E2F2","#BFDDBF","#F3F29A","#9FC8E6","#A99BD6","#F0D2B4","#4F6FB8","#36ABB8","#8DBF3E","#F5C400","#000000"]
          }
        },
        "stroke": {
          "field": "series", "type": "nominal", "legend": null,
          "scale": {
            "domain": ["Geom.mean","Tiber","Albufera","Minho","Nalon","Adour","Gironde","Loire","Vilaine","Ijzer","Stellendam","Ijmuiden","DenOever","Lauwersoog","Ems","Vidaa","Severn","Shannon","Erne","Bann","IYFS"],
            "range": ["#000000","#F5C400","#8DBF3E","#36ABB8","#4F6FB8","#F0D2B4","#A99BD6","#9FC8E6","#F3F29A","#BFDDBF","#C6E2F2","#2EC4EA","#2F4A9E","#1F7A8A","#8B0E12","#7A3C9A","#8FD3EA","#E6E645","#C9489B","#1E2A78","#EFA444"]
          }
        },
        "shape": {
          "field": "series", "type": "nominal", "legend": null,
          "scale": {
            "domain": ["Geom.mean","Tiber","Albufera","Minho","Nalon","Adour","Gironde","Loire","Vilaine","Ijzer","Stellendam","Ijmuiden","DenOever","Lauwersoog","Ems","Vidaa","Severn","Shannon","Erne","Bann","IYFS"],
            "range": [
              "M-6.5,-0.6H6.5V0.6H-6.5Z",
              "M-0.85,-0.85H0.85V0.85H-0.85Z",
              "M0,-1L1,0L0,1L-1,0Z",
              "M-1,-0.35H1V0.35H-1Z",
              "M-1,-0.35H1V0.35H-1Z",
              "M-1,0H1M0,-1V1",
              "M1,0A1,1,0,1,1,-1,0A1,1,0,1,1,1,0Z",
              "M-0.8,-0.8L0.8,0.8M-0.8,0.8L0.8,-0.8",
              "M0,-1L1,0.75L-1,0.75Z",
              "M-0.85,-0.85H0.85V0.85H-0.85Z",
              "M-1,0H1M0,-1V1",
              "M-1,-0.35H1V0.35H-1Z",
              "M-1,-0.35H1V0.35H-1Z",
              "M-1,0H1M0,-1V1",
              "M1,0A1,1,0,1,1,-1,0A1,1,0,1,1,1,0Z",
              "M-0.8,-0.8L0.8,0.8M-0.8,0.8L0.8,-0.8M0,-1V1",
              "M-0.8,-0.8L0.8,0.8M-0.8,0.8L0.8,-0.8",
              "M0,-1L1,0.75L-1,0.75Z",
              "M-0.85,-0.85H0.85V0.85H-0.85Z",
              "M0,-1L1,0L0,1L-1,0Z",
              "M0,-1L1,0.75L-1,0.75Z"
            ]
          }
        }
      }
    }
  ]
}
